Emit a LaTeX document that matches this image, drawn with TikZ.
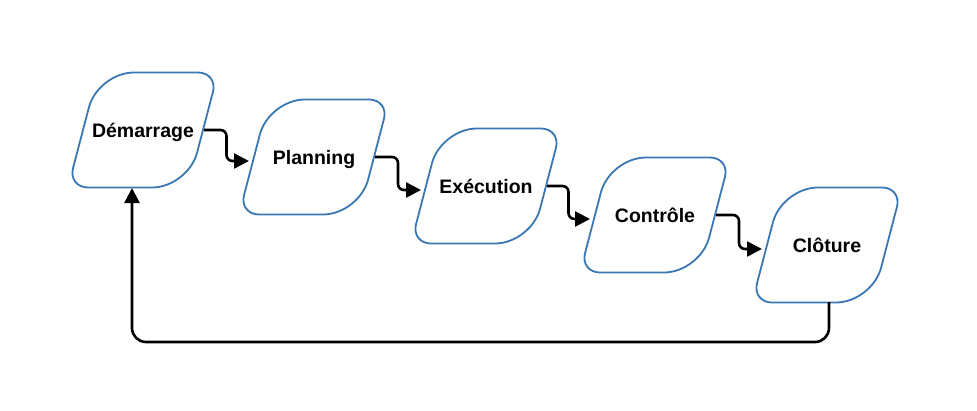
\documentclass[tikz,border=0pt]{standalone}
\usepackage{fontspec}
\setmainfont{Liberation Sans}
\usetikzlibrary{arrows.meta,calc}
\definecolor{boxblue}{RGB}{58,120,180}
\tikzset{
  pbox/.style={draw=boxblue, line width=1.8pt, fill=white},
  lbl/.style={font=\fontsize{19.5}{24}\selectfont\bfseries, inner sep=0pt, anchor=base},
  conn/.style={draw=black, line width=2.6pt, rounded corners=6pt, -{Triangle[length=15pt,width=15pt]}},
}
\newcommand\pgbox[4]{%
  \begin{scope}[shift={(#2,#3)}]
    \draw[pbox] (15,-57.5) [rounded corners=20pt] -- (75,-57.5) [rounded corners=36pt] -- (45,57.5)
       [rounded corners=20pt] -- (-75,57.5) [rounded corners=36pt] -- (-45,-57.5) [rounded corners=20pt] -- cycle;
    \node[lbl] (#1) at (0,7) {#4};
    \coordinate (#1-out) at (61,0);
    \coordinate (#1-in) at (-65,4);
  \end{scope}}
\begin{document}
\begin{tikzpicture}[x=1pt,y=-1pt]
  \useasboundingbox (0,0) rectangle (977,410);
  \pgbox{dem}{143}{130}{Démarrage}
  \pgbox{pla}{314}{157}{Planning}
  \pgbox{exe}{486}{186}{Exécution}
  \pgbox{con}{655}{215}{Contrôle}
  \pgbox{clo}{827}{245}{Clôture}
  \coordinate (demB) at (132,188);
  \coordinate (cloB) at (829,302);
  \coordinate (base) at (0,342);
  \draw[conn] (dem-out) -| ($(dem-out)!.5!(pla-in)$) |- (pla-in);
  \draw[conn] (pla-out) -| ($(pla-out)!.5!(exe-in)$) |- (exe-in);
  \draw[conn] (exe-out) -| ($(exe-out)!.5!(con-in)$) |- (con-in);
  \draw[conn] (con-out) -| ($(con-out)!.5!(clo-in)$) |- (clo-in);
  \draw[conn, rounded corners=14pt] (cloB) -- (cloB |- base) -- (demB |- base) -- (demB);
\end{tikzpicture}
\end{document}
